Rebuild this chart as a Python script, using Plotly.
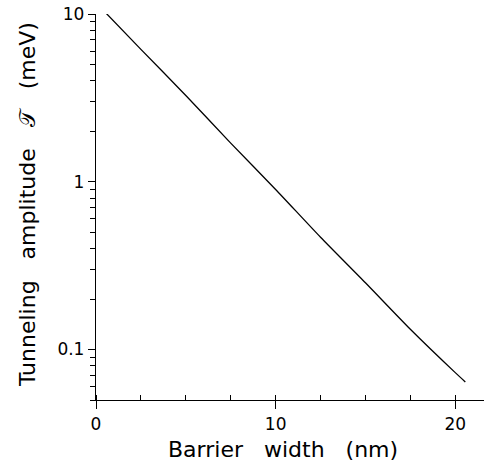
import plotly.graph_objects as go

barrier_width_nm = [0.43, 2.5, 5.0, 7.5, 10.0, 12.5, 15.0, 17.5, 20.0, 20.56]
tunneling_amp_meV = [10.46, 6.15, 3.27, 1.70, 0.90, 0.467, 0.250, 0.132, 0.0728, 0.0641]

x_tickvals = [0, 10, 20]
x_ticktext = ["0", "10", "20"]
y_tickvals = [0.1, 1, 10]
y_ticktext = ["0.1", "1", "10"]

x_title = "Barrier\u00a0\u00a0 width\u00a0\u00a0 (nm)"
y_title = "Tunneling\u00a0\u00a0 amplitude\u00a0\u00a0 𝒯\u00a0\u00a0 (meV)"

font = "DejaVu Sans"
W, H = 485, 463
L, R, T, B = 96, 1, 14, 63

fig = go.Figure()
fig.add_trace(go.Scatter(x=barrier_width_nm, y=tunneling_amp_meV, mode="lines",
                         line=dict(color="black", width=1.3, shape="spline", smoothing=0.6),
                         showlegend=False, cliponaxis=False))

fig.update_layout(
    width=W, height=H,
    margin=dict(l=L, r=R, t=T, b=B, autoexpand=False),
    paper_bgcolor="white", plot_bgcolor="white",
    font=dict(family=font, color="black", size=17),
)
fig.update_xaxes(
    range=[0, 21.6], showline=True, linecolor="black", linewidth=1.3,
    tickmode="array", tickvals=x_tickvals, ticktext=x_ticktext,
    ticks="outside", ticklen=8, tickwidth=1.3, tickcolor="black",
    minor=dict(ticks="inside", dtick=2.5, tick0=0, ticklen=5, tickwidth=1.2, tickcolor="black", showgrid=False),
    showgrid=False, zeroline=False, automargin=False,
    tickfont=dict(size=17, family=font),
)
fig.update_yaxes(
    type="log", range=[-1.301, 1.0], showline=True, linecolor="black", linewidth=1.3,
    tickmode="array", tickvals=y_tickvals, ticktext=y_ticktext,
    ticks="outside", ticklen=7, tickwidth=1.3, tickcolor="black",
    minor=dict(ticks="outside", dtick="D1", ticklen=5, tickwidth=1.2, tickcolor="black", showgrid=False),
    showgrid=False, zeroline=False, automargin=False,
    tickfont=dict(size=17, family=font),
)
fig.add_annotation(text=x_title, xref="paper", yref="paper",
                   x=(283 - L) / (W - L - R), y=-(449 - (H - B)) / (H - T - B),
                   xanchor="center", yanchor="middle", showarrow=False,
                   font=dict(size=22, family=font, color="black"))
fig.add_annotation(text=y_title, xref="paper", yref="paper",
                   x=-(L - 27) / (W - L - R), y=((H - B) - 205) / (H - T - B),
                   xanchor="center", yanchor="middle", showarrow=False, textangle=-90,
                   font=dict(size=22, family=font, color="black"))

fig.write_html("out.html", config={"displayModeBar": False},
               post_script="document.body.style.margin='0';document.body.style.padding='0';document.body.style.overflow='hidden';")
